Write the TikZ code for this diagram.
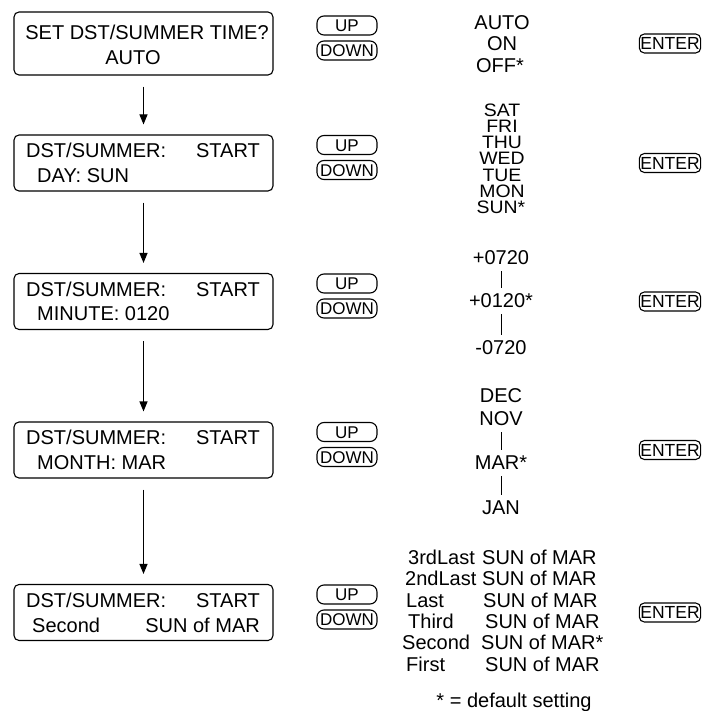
\documentclass[tikz,border=0pt]{standalone}
\usepackage{fontspec}
\setmainfont{Liberation Sans}
\usetikzlibrary{arrows.meta}

\tikzset{
  lcd/.style={draw, line width=1.1pt, rounded corners=5pt, minimum width=259pt, minimum height=56pt, inner sep=0pt},
  lbl/.style={inner sep=0pt, font=\fontsize{20}{20}\selectfont, text height=14.4pt, text depth=0pt},
  daylbl/.style={lbl, font=\fontsize{18}{18}\selectfont, text height=13pt, xscale=1.08},
  key/.style={draw, line width=1.1pt, rounded corners=7pt, minimum width=60pt, minimum height=19pt, inner sep=0pt,
    font=\fontsize{17}{17}\selectfont, text height=12.2pt, text depth=0pt},
  enterkey/.style={key, rounded corners=5pt, minimum width=59pt, inner xsep=1pt, font=\fontsize{17.5}{17.5}\selectfont},
  arr/.style={-{Triangle[length=10pt,width=8pt]}, line width=1.1pt, shorten <=11pt, shorten >=10pt},
  tick/.style={line width=0.9pt, shorten <=7pt, shorten >=5pt}
}

\begin{document}
\begin{tikzpicture}[x=1pt,y=-1pt]
        \useasboundingbox (0,0) rectangle (701,711);

        % display boxes
        \node[lcd, minimum height=63pt] (b1) at (143.5,43.5) {};
        \node[lcd] (b2) at (143.5,163) {};
        \node[lcd] (b3) at (143.5,301.5) {};
        \node[lcd] (b4) at (143.5,450) {};
        \node[lcd] (b5) at (143.5,612.5) {};

        \node[lbl] (s1) at (147,32) {SET DST/SUMMER TIME?};
        \node[lbl] (s1v) at (133,57) {AUTO};

        \node[lbl, anchor=west] (s2) at (26,150.5) {DST/SUMMER:};
        \node[lbl, anchor=east] (s2r) at (260,150.5) {START};
        \node[lbl, anchor=west] (s2v) at (37,175.5) {DAY: SUN};

        \node[lbl, anchor=west] (s3) at (26,289) {DST/SUMMER:};
        \node[lbl, anchor=east] (s3r) at (260,289) {START};
        \node[lbl, anchor=west] (s3v) at (37,313.5) {MINUTE: 0120};

        \node[lbl, anchor=west] (s4) at (26,437.5) {DST/SUMMER:};
        \node[lbl, anchor=east] (s4r) at (260,437.5) {START};
        \node[lbl, anchor=west] (s4v) at (37,462.5) {MONTH: MAR};

        \node[lbl, anchor=west] (s5) at (26,600) {DST/SUMMER:};
        \node[lbl, anchor=east] (s5r) at (260,600) {START};
        \node[lbl, anchor=west] (s5v) at (32,625) {Second};
        \node[lbl, anchor=east] (s5w) at (260,625) {SUN of MAR};

        \draw[arr] (b1) -- (b2);
        \draw[arr] (b2) -- (b3);
        \draw[arr] (b3) -- (b4);
        \draw[arr] (b4) -- (b5);

        % keys
        \node[key] (up1) at (347,25.5) {UP};
        \node[key] (dn1) at (347,50.5) {DOWN};
        \node[key] (up2) at (347,145) {UP};
        \node[key] (dn2) at (347,170) {DOWN};
        \node[key] (up3) at (347,283.5) {UP};
        \node[key] (dn3) at (347,308.5) {DOWN};
        \node[key] (up4) at (347,432) {UP};
        \node[key] (dn4) at (347,457) {DOWN};
        \node[key] (up5) at (347,594.5) {UP};
        \node[key] (dn5) at (347,619.5) {DOWN};

        \node[enterkey] (ent1) at (670,43.5) {ENTER};
        \node[enterkey] (ent2) at (670,163) {ENTER};
        \node[enterkey] (ent3) at (670,301.5) {ENTER};
        \node[enterkey] (ent4) at (670,450) {ENTER};
        \node[enterkey] (ent5) at (670,612.5) {ENTER};

        % choices
        \node[lbl] (o1a) at (502,22) {AUTO};
        \node[lbl] (o1b) at (502,43) {ON};
        \node[lbl] (o1c) at (500,65) {OFF*};

        \node[daylbl] (d7) at (502,110) {SAT};
        \node[daylbl] (d6) at (502,126.2) {FRI};
        \node[daylbl] (d5) at (502,142.3) {THU};
        \node[daylbl] (d4) at (502,158.5) {WED};
        \node[daylbl] (d3) at (502,174.7) {TUE};
        \node[daylbl] (d2) at (502,190.8) {MON};
        \node[daylbl] (d1) at (501,207) {SUN*};

        \node[lbl] (m1) at (501,257) {+0720};
        \node[lbl] (m2) at (501,300) {+0120*};
        \node[lbl] (m3) at (501,347) {-0720};
        \draw[tick] (m1.south) -- (m1.south |- m2.north);
        \draw[tick] (m1.south |- m2.south) -- (m1.south |- m3.north);

        \node[lbl] (n12) at (501,395) {DEC};
        \node[lbl] (n11) at (501,418) {NOV};
        \node[lbl] (n3) at (501,462) {MAR*};
        \node[lbl] (n1) at (501,507) {JAN};
        \draw[tick] (n11.south) -- (n11.south |- n3.north);
        \draw[tick] (n11.south |- n3.south) -- (n1.north);

        \node[lbl, anchor=west] (w6) at (408,557) {3rdLast};
        \node[lbl, anchor=west] (w5) at (405,578.4) {2ndLast};
        \node[lbl, anchor=west] (w4) at (406,599.8) {Last};
        \node[lbl, anchor=west] (w3) at (408,621.2) {Third};
        \node[lbl, anchor=west] (w2) at (402,642.6) {Second};
        \node[lbl, anchor=west] (w1) at (406,664) {First};
        \node[lbl, anchor=west] (r6) at (482,557) {SUN of MAR};
        \node[lbl, anchor=west] (r5) at (482,578.4) {SUN of MAR};
        \node[lbl, anchor=west] (r4) at (483,599.8) {SUN of MAR};
        \node[lbl, anchor=west] (r3) at (485,621.2) {SUN of MAR};
        \node[lbl, anchor=west] (r2) at (481,642.6) {SUN of MAR*};
        \node[lbl, anchor=west] (r1) at (485,664) {SUN of MAR};

        \node[lbl] (note) at (514,700) {* = default setting};
\end{tikzpicture}
\end{document}
